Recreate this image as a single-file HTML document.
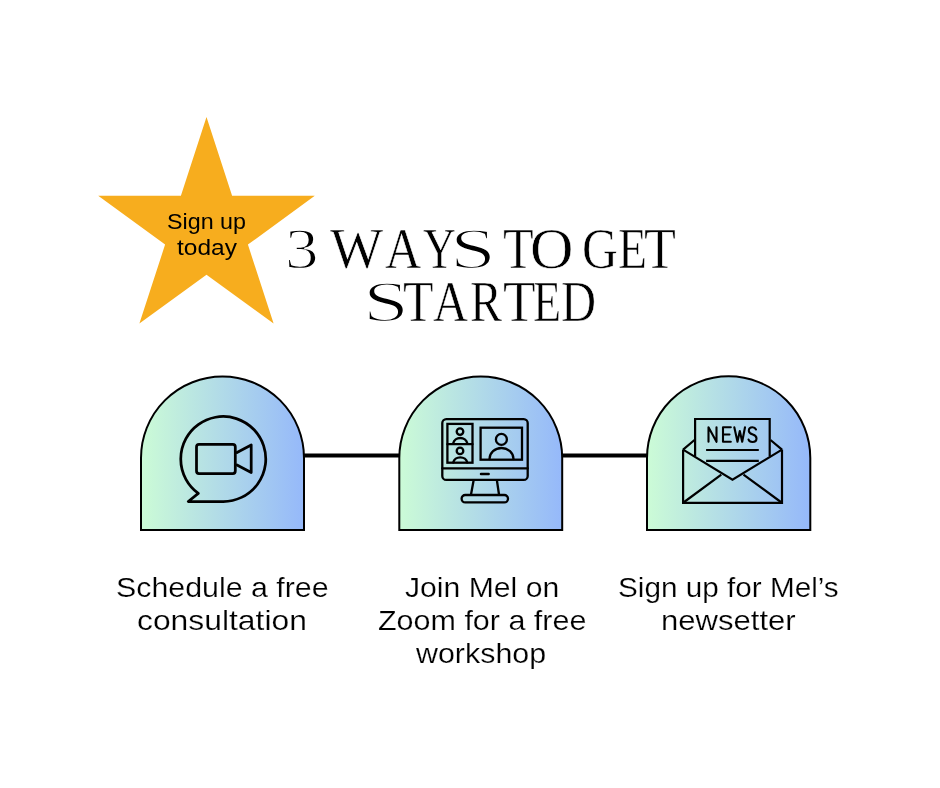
<!DOCTYPE html>
<html><head><meta charset="utf-8">
<style>
html,body{margin:0;padding:0;background:#fff;}
body{width:940px;height:788px;position:relative;overflow:hidden;}
svg{position:absolute;left:0;top:0;}
.t{will-change:transform;-webkit-text-stroke:0.2px #fff;position:absolute;white-space:nowrap;font-family:"Liberation Sans",sans-serif;color:#000;line-height:1;transform-origin:0 0;}
.ttl{-webkit-text-stroke:1px #fff;position:absolute;white-space:nowrap;font-family:"Liberation Serif",serif;color:#000;line-height:1;transform-origin:0 0;}
</style></head><body>
<svg width="940" height="788" viewBox="0 0 940 788">
<defs>
<linearGradient id="g1" gradientUnits="userSpaceOnUse" x1="140" y1="0" x2="305" y2="0"><stop offset="0" stop-color="#ccfcd6"/><stop offset="1" stop-color="#95b8fa"/></linearGradient>
<linearGradient id="g2" gradientUnits="userSpaceOnUse" x1="398" y1="0" x2="563" y2="0"><stop offset="0" stop-color="#ccfcd6"/><stop offset="1" stop-color="#95b8fa"/></linearGradient>
<linearGradient id="g3" gradientUnits="userSpaceOnUse" x1="646" y1="0" x2="811" y2="0"><stop offset="0" stop-color="#ccfcd6"/><stop offset="1" stop-color="#95b8fa"/></linearGradient>
</defs>
<!-- star -->
<polygon fill="#F7AD1E" points="206.5,117 232.1,195.8 314.8,195.8 247.9,244.6 273.6,323.4 206.5,274.7 139.4,323.4 165.1,244.6 98.2,195.8 180.9,195.8"/>
<!-- connectors -->
<rect x="304" y="453.5" width="95" height="4" fill="#000"/>
<rect x="562" y="453.5" width="85" height="4" fill="#000"/>
<!-- arches -->
<path d="M141,530 L141,458 A81.5,81.5 0 0 1 304,458 L304,530 Z" fill="url(#g1)" stroke="#000" stroke-width="2"/>
<path d="M399.3,530 L399.3,458 A81.45,81.45 0 0 1 562.2,458 L562.2,530 Z" fill="url(#g2)" stroke="#000" stroke-width="2"/>
<path d="M647,530 L647,458 A81.65,81.65 0 0 1 810.3,458 L810.3,530 Z" fill="url(#g3)" stroke="#000" stroke-width="2"/>
<!-- icon1 -->
<g fill="none" stroke="#000" stroke-width="2.75" stroke-linejoin="round" stroke-linecap="round">
<path d="M223.3,501.5 A42.5,42.5 0 1 0 198.3,493.4 L188.3,501.5 Z"/>
<rect x="196.5" y="444.4" width="38.8" height="29.1" rx="2.5"/>
<path d="M237,452.5 L251.2,445 L251.2,472.5 L237,465"/>
</g>
<!-- icon2 -->
<g fill="none" stroke="#000" stroke-width="2.3" stroke-linejoin="round" stroke-linecap="round">
<rect x="442.3" y="419.1" width="85.4" height="60.8" rx="4"/>
<line x1="442.3" y1="468.3" x2="527.7" y2="468.3"/>
<line x1="481" y1="474.1" x2="488.6" y2="474.1" stroke-width="2.5"/>
<path d="M473.5,481 L471,494.5 M497,481 L499,494.5"/>
<rect x="461.6" y="495" width="46.4" height="7.4" rx="3.7"/>
<rect x="447.4" y="423.9" width="25.1" height="38.8" stroke-linejoin="miter"/>
<line x1="447.4" y1="444.2" x2="472.5" y2="444.2"/>
<circle cx="460" cy="431.6" r="3.3"/>
<path d="M453.2,443.2 A7.2,6.5 0 0 1 467.3,443.2"/>
<circle cx="460" cy="450.9" r="3.3"/>
<path d="M453.2,462.5 A7.2,6.5 0 0 1 467.3,462.5"/>
<rect x="480.6" y="427.7" width="41.4" height="32" stroke-linejoin="miter"/>
<circle cx="501.4" cy="439.4" r="5.5"/>
<path d="M489.5,459 A12,11 0 0 1 513.5,459"/>
</g>
<!-- icon3 -->
<g fill="none" stroke="#000" stroke-width="2.2" stroke-linejoin="miter" stroke-linecap="butt">
<path d="M683.1,449.6 L683.1,502.8 L782,502.8 L782,449.6"/>
<path d="M683.1,449.6 L694.5,440 M782,449.6 L770.5,440"/>
<path d="M683.1,449.6 L732.5,479.8 L782,449.6"/>
<path d="M683.5,502.5 L721.3,474.7 M781.5,502.5 L743.5,474.7"/>
<path d="M695.1,456.3 L695.1,419 L769.7,419 L769.7,456.3"/>
<line x1="706.1" y1="450" x2="758.8" y2="450"/>
<line x1="706.1" y1="460.8" x2="758.8" y2="460.8"/>
</g>
<g fill="none" stroke="#000" stroke-width="2.1" stroke-linejoin="round" stroke-linecap="round">
<path d="M708.5,441.8 L708.5,427.3 L716.5,441.8 L716.5,427.3"/>
<path d="M730.8,427.3 L723,427.3 L723,441.7 L730.8,441.7 M723,434.5 L729.5,434.5"/>
<path d="M734.3,427.3 L737.5,441.7 L739.8,431 L742.2,441.7 L745,427.3"/>
<path d="M756,429.5 C755,427.5 753.5,427.3 752.5,427.3 C750,427.3 748.8,429 748.8,430.8 C748.8,433 751,434 752.8,434.6 C755,435.3 756.5,436.5 756.5,438.5 C756.5,440.8 754.8,442 752.5,442 C750.5,442 749,441 748.5,439.5"/>
</g>
</svg>
<div class="t" id="s1" style="-webkit-text-stroke:0;left:166.54px;top:211.05px;font-size:22px;transform:scaleX(1.0589);">Sign up</div>
<div class="t" id="s2" style="-webkit-text-stroke:0;left:176.7px;top:236.7px;font-size:22px;transform:scaleX(1.113);">today</div>
<!--TITLE-->
<div class="ttl" id="h1_0" style="-webkit-text-stroke:1.3px #fff;left:284.77px;top:220.0px;font-size:57px;transform:scaleX(1.1783);">3</div>
<div class="ttl" id="h1_1" style="-webkit-text-stroke:0.6px #fff;left:329.71px;top:220.0px;font-size:57px;transform:scaleX(0.9885);">W</div>
<div class="ttl" id="h1_2" style="-webkit-text-stroke:0.6px #fff;left:385.22px;top:220.0px;font-size:57px;transform:scaleX(0.8795);">A</div>
<div class="ttl" id="h1_3" style="-webkit-text-stroke:0.6px #fff;left:423.0px;top:220.0px;font-size:57px;transform:scaleX(0.7974);">Y</div>
<div class="ttl" id="h1_4" style="-webkit-text-stroke:1.5px #fff;left:449.55px;top:220.0px;font-size:57px;transform:scaleX(1.45);">S</div>
<div class="ttl" id="h1_5" style="-webkit-text-stroke:0.6px #fff;left:502.62px;top:220.0px;font-size:57px;transform:scaleX(0.8813);">T</div>
<div class="ttl" id="h1_6" style="-webkit-text-stroke:0.6px #fff;left:529.54px;top:220.0px;font-size:57px;transform:scaleX(1.0543);">O</div>
<div class="ttl" id="h1_7" style="-webkit-text-stroke:0.6px #fff;left:581.69px;top:220.0px;font-size:57px;transform:scaleX(0.8694);">G</div>
<div class="ttl" id="h1_8" style="-webkit-text-stroke:0.6px #fff;left:618.23px;top:220.0px;font-size:57px;transform:scaleX(0.8333);">E</div>
<div class="ttl" id="h1_9" style="-webkit-text-stroke:0.6px #fff;left:644.48px;top:220.0px;font-size:57px;transform:scaleX(0.9156);">T</div>
<div class="ttl" id="h2_0" style="-webkit-text-stroke:1.5px #fff;left:362.85px;top:272.8px;font-size:57px;transform:scaleX(1.45);">S</div>
<div class="ttl" id="h2_1" style="-webkit-text-stroke:0.6px #fff;left:403.02px;top:272.8px;font-size:57px;transform:scaleX(0.8781);">T</div>
<div class="ttl" id="h2_2" style="-webkit-text-stroke:0.6px #fff;left:433.05px;top:272.8px;font-size:57px;transform:scaleX(0.8513);">A</div>
<div class="ttl" id="h2_3" style="-webkit-text-stroke:0.6px #fff;left:469.91px;top:272.8px;font-size:57px;transform:scaleX(0.8429);">R</div>
<div class="ttl" id="h2_4" style="-webkit-text-stroke:0.6px #fff;left:502.66px;top:272.8px;font-size:57px;transform:scaleX(0.9375);">T</div>
<div class="ttl" id="h2_5" style="-webkit-text-stroke:0.6px #fff;left:533.28px;top:272.8px;font-size:57px;transform:scaleX(0.81);">E</div>
<div class="ttl" id="h2_6" style="-webkit-text-stroke:0.6px #fff;left:560.59px;top:272.8px;font-size:57px;transform:scaleX(0.8528);">D</div>
<div class="t" id="a1" style="left:115.92px;top:574.1px;font-size:28px;transform:scaleX(1.084);">Schedule a free</div>
<div class="t" id="a2" style="left:136.86px;top:606.8px;font-size:28px;transform:scaleX(1.1367);">consultation</div>
<div class="t" id="b1" style="left:405.17px;top:574px;font-size:28px;transform:scaleX(1.0768);">Join Mel on</div>
<div class="t" id="b2" style="left:377.66px;top:606.6px;font-size:28px;transform:scaleX(1.0886);">Zoom for a free</div>
<div class="t" id="b3" style="left:416.25px;top:639.5px;font-size:28px;transform:scaleX(1.0861);">workshop</div>
<div class="t" id="c1" style="left:618.44px;top:574px;font-size:28px;transform:scaleX(1.0607);">Sign up for Mel’s</div>
<div class="t" id="c2" style="left:660.78px;top:606.6px;font-size:28px;transform:scaleX(1.1092);">newsetter</div>
</body></html>
